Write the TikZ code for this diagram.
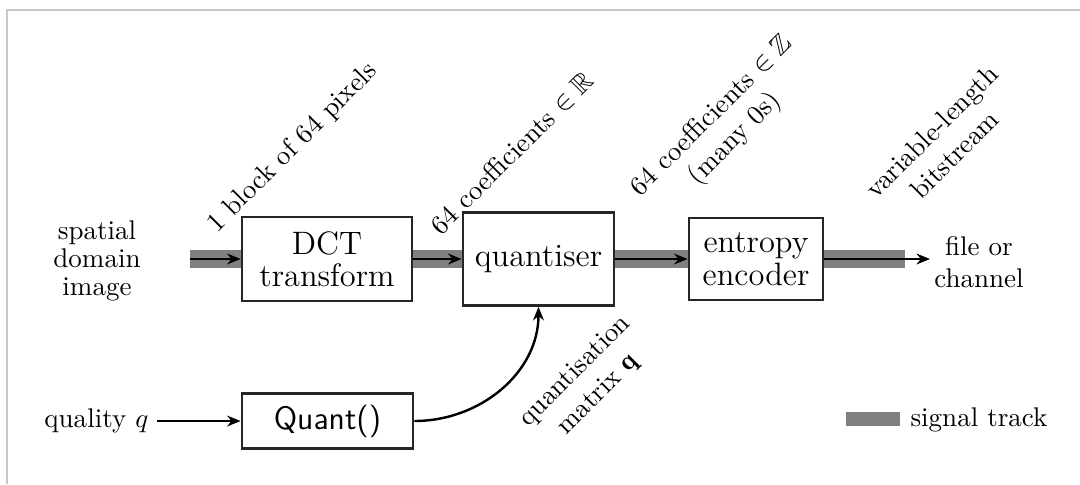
\documentclass[tikz,border=0pt]{standalone}
\usepackage{fontspec}
\usepackage{amssymb}
\usetikzlibrary{arrows.meta,backgrounds}

\definecolor{trackgray}{gray}{0.5}
\definecolor{framegray}{gray}{0.78}

\tikzset{
  block/.style={draw=black!85, line width=1pt, fill=white, align=center,
    font=\large, inner sep=2pt},
  track/.style={trackgray, line width=6.3pt, line cap=butt},
  sig/.style={black, line width=0.9pt, -{Stealth[length=5pt,width=4pt]}},
  lbl/.style={align=center, inner sep=1pt},
  tilted/.style={lbl, rotate=45},
  framerule/.style={framegray, line width=0.6pt}
}

\begin{document}
\begin{tikzpicture}[x=0.37pt, y=-0.37pt]
  \useasboundingbox (0,0) rectangle (1080,484);

  % frame edges
  \draw[framerule] (7,484) -- (7,10) -- (1080,10);

  % processing blocks
  \node[block, minimum width=62.9pt, minimum height=31.1pt] (dct) at (327,259) {DCT\\[-2pt]transform};
  \node[block, minimum width=55.9pt, minimum height=34.4pt] (quant) at (538.5,259) {quantiser};
  \node[block, minimum width=49.6pt, minimum height=30.3pt] (ent) at (756,259) {entropy\\[-2pt]encoder};
  \node[block, minimum width=63.3pt, minimum height=20.4pt, font=\large\sffamily] (qfun) at (327.5,421) {Quant()};

  % end points of the signal path
  \node[lbl, font=\normalsize, align=center] (src) at (97,261) {spatial\\[-1.5pt]domain\\[-1.5pt]image};
  \node[lbl, align=center] (dst) at (979,262) {file or\\channel};
  \coordinate (in) at (190,259);
  \coordinate (trackend) at (905,259);
  \coordinate (out) at (930,259);

  % thick signal track beneath the arrows
  \begin{scope}[on background layer]
    \draw[track] (in) -- (dct.west);
    \draw[track] (dct.east) -- (quant.west);
    \draw[track] (quant.east) -- (ent.west);
    \draw[track] (ent.east) -- (trackend);
  \end{scope}

  % signal arrows
  \draw[sig] (in) -- (dct.west);
  \draw[sig] (dct.east) -- (quant.west);
  \draw[sig] (quant.east) -- (ent.west);
  \draw[sig] (ent.east) -- (out);

  % quality control path
  \node[lbl, anchor=east, inner sep=3pt] (qual) at (157,421) {quality $q$};
  \draw[sig] (qual.east) -- (qfun.west);
  \draw[sig] (qfun.east) to[out=0, in=-90] (quant.south);

  % tilted annotations
  \node[tilted] (l1) at (293,148) {1 block of 64 pixels};
  \node[tilted] (l2) at (512,153) {64 coefficients $\in\mathbb{R}$};
  \node[tilted] (l3) at (724,128) {64 coefficients $\in\mathbb{Z}$\\(many 0s)};
  \node[tilted] (l4) at (943,143) {variable-length\\bitstream};
  \node[tilted] (l5) at (587,383) {quantisation\\matrix $\mathbf{q}$};

  % legend
  \node[fill=trackgray, minimum width=20pt, minimum height=5.2pt, inner sep=0pt] (legbar) at (873,419) {};
  \node[lbl, anchor=west, inner sep=0pt] (legtext) at (910,420) {signal track};
\end{tikzpicture}
\end{document}
